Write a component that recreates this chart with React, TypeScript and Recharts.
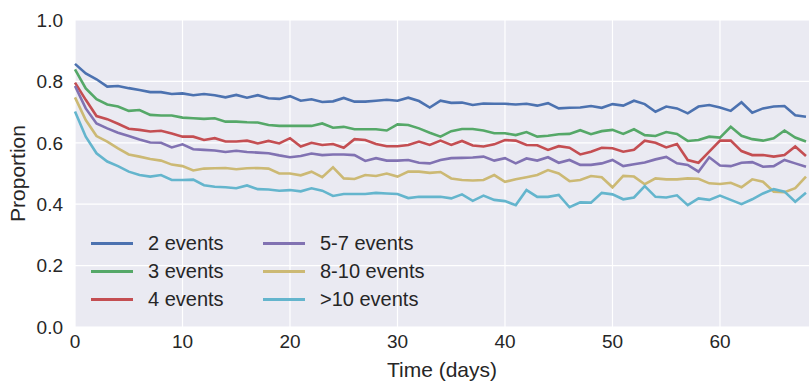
import React from 'react'
import { LineChart, Line, XAxis, YAxis, CartesianGrid } from 'recharts'

// days 0..68
const days = Array.from({ length: 69 }, (_, i) => i)

const twoEvents = [
  0.857, 0.826, 0.807, 0.783, 0.785, 0.778, 0.772, 0.765, 0.765, 0.759, 0.761, 0.755,
  0.759, 0.755, 0.748, 0.756, 0.747, 0.755, 0.745, 0.743, 0.752, 0.737, 0.742, 0.733,
  0.735, 0.746, 0.734, 0.734, 0.737, 0.74, 0.737, 0.747, 0.736, 0.715, 0.737, 0.73,
  0.731, 0.723, 0.728, 0.727, 0.727, 0.725, 0.727, 0.721, 0.729, 0.712, 0.714, 0.715,
  0.72, 0.714, 0.726, 0.721, 0.737, 0.726, 0.701, 0.718, 0.712, 0.696, 0.718, 0.723,
  0.715, 0.704, 0.732, 0.698, 0.712, 0.718, 0.72, 0.69, 0.685,
]
const threeEvents = [
  0.839, 0.777, 0.742, 0.725, 0.718, 0.704, 0.707, 0.691, 0.689, 0.689, 0.682, 0.68,
  0.678, 0.68, 0.669, 0.669, 0.667, 0.666, 0.658, 0.655, 0.655, 0.655, 0.655, 0.663,
  0.649, 0.652, 0.644, 0.644, 0.644, 0.64, 0.66, 0.658, 0.647, 0.633, 0.62, 0.638,
  0.645, 0.645, 0.64, 0.631, 0.631, 0.625, 0.635, 0.62, 0.623, 0.628, 0.629, 0.641,
  0.628, 0.638, 0.642, 0.629, 0.644, 0.625, 0.622, 0.635, 0.629, 0.606, 0.609, 0.62,
  0.617, 0.652, 0.623, 0.612, 0.607, 0.615, 0.64, 0.617, 0.604,
]
const fourEvents = [
  0.796, 0.74, 0.687, 0.677, 0.662, 0.646, 0.642, 0.637, 0.639, 0.63, 0.62, 0.62,
  0.609, 0.615, 0.604, 0.604, 0.607, 0.598, 0.606, 0.598, 0.615, 0.588, 0.6, 0.593,
  0.596, 0.584, 0.612, 0.609, 0.596, 0.589, 0.589, 0.593, 0.604, 0.593, 0.607, 0.593,
  0.606, 0.591, 0.588, 0.595, 0.609, 0.607, 0.593, 0.592, 0.577, 0.589, 0.584, 0.562,
  0.571, 0.584, 0.582, 0.571, 0.577, 0.607, 0.6, 0.585, 0.596, 0.544, 0.535, 0.571,
  0.607, 0.607, 0.573, 0.56, 0.56, 0.555, 0.56, 0.588, 0.557,
]
const fiveToSeven = [
  0.785, 0.712, 0.663, 0.647, 0.633, 0.622, 0.611, 0.601, 0.6, 0.585, 0.595, 0.579,
  0.577, 0.575, 0.57, 0.574, 0.57, 0.568, 0.566, 0.559, 0.553, 0.557, 0.565, 0.56,
  0.562, 0.562, 0.56, 0.541, 0.55, 0.542, 0.542, 0.544, 0.535, 0.533, 0.544, 0.55,
  0.551, 0.552, 0.555, 0.542, 0.55, 0.533, 0.549, 0.542, 0.553, 0.535, 0.544, 0.528,
  0.528, 0.533, 0.544, 0.524, 0.53, 0.536, 0.546, 0.554, 0.533, 0.528, 0.506, 0.553,
  0.526, 0.524, 0.535, 0.537, 0.522, 0.524, 0.544, 0.533, 0.522,
]
const eightToTen = [
  0.748, 0.674, 0.622, 0.604, 0.582, 0.562, 0.555, 0.547, 0.542, 0.529, 0.524, 0.51,
  0.516, 0.517, 0.518, 0.514, 0.517, 0.518, 0.516, 0.5, 0.5, 0.494, 0.506, 0.488,
  0.52, 0.484, 0.482, 0.495, 0.492, 0.5, 0.49, 0.506, 0.506, 0.502, 0.505, 0.484,
  0.479, 0.477, 0.479, 0.495, 0.473, 0.481, 0.488, 0.495, 0.511, 0.5, 0.475, 0.479,
  0.492, 0.488, 0.455, 0.492, 0.49, 0.465, 0.484, 0.481, 0.481, 0.484, 0.483, 0.468,
  0.466, 0.47, 0.455, 0.481, 0.473, 0.441, 0.439, 0.452, 0.49,
]
const overTen = [
  0.702, 0.62, 0.566, 0.539, 0.524, 0.506, 0.495, 0.49, 0.495, 0.479, 0.479, 0.48,
  0.462, 0.457, 0.455, 0.452, 0.461, 0.449, 0.448, 0.444, 0.446, 0.442, 0.452, 0.444,
  0.427, 0.433, 0.433, 0.433, 0.437, 0.435, 0.433, 0.42, 0.424, 0.424, 0.424, 0.419,
  0.432, 0.411, 0.428, 0.414, 0.41, 0.397, 0.446, 0.424, 0.424, 0.43, 0.39, 0.406,
  0.405, 0.437, 0.432, 0.416, 0.422, 0.459, 0.424, 0.422, 0.429, 0.397, 0.419, 0.414,
  0.428, 0.414, 0.4, 0.416, 0.435, 0.449, 0.441, 0.408, 0.437,
]

const seriesNames = ['2 events', '3 events', '4 events', '5-7 events', '8-10 events', '>10 events']
const seriesValues = [twoEvents, threeEvents, fourEvents, fiveToSeven, eightToTen, overTen]
const colors = ['#4C72B0', '#55A868', '#C44E52', '#8172B2', '#CCB974', '#64B5CD']

const xTicks = [0, 10, 20, 30, 40, 50, 60]
const yTicks = [0, 0.2, 0.4, 0.6, 0.8, 1.0]

const data = days.map((d, i) => {
  const row: Record<string, number> = { day: d }
  seriesNames.forEach((name, s) => {
    row[name] = seriesValues[s][i]
  })
  return row
})

const FONT = '"Liberation Sans", Arial, sans-serif'
const TEXT = '#262626'

// legend: two columns of three, no frame, laid over the plot
const LegendBox = () => (
  <div
    style={{
      position: 'absolute',
      left: 91,
      top: 229,
      display: 'grid',
      gridTemplateColumns: '172px 220px',
      gridAutoFlow: 'column',
      gridTemplateRows: 'repeat(3, 28px)',
      fontFamily: FONT,
      fontSize: 20,
      color: TEXT,
      pointerEvents: 'none',
    }}
  >
    {seriesNames.map((name, i) => (
      <div key={name} style={{ display: 'flex', alignItems: 'center', height: 28 }}>
        <span style={{ display: 'inline-block', width: 42, height: 3, background: colors[i], marginRight: 15 }} />
        <span>{name}</span>
      </div>
    ))}
  </div>
)

export default function App() {
  return (
    <div style={{ position: 'absolute', left: 0, top: 0, width: 809, height: 381, background: '#fff' }}>
      <LineChart width={809} height={381} data={data} margin={{ top: 20, right: 0, bottom: 0, left: 15 }}>
        <CartesianGrid fill="#EAEAF2" stroke="#ffffff" strokeWidth={1.2} horizontalValues={yTicks} verticalValues={xTicks} />
        <XAxis
          dataKey="day"
          type="number"
          domain={[0, 68.28]}
          ticks={xTicks}
          tickLine={false}
          axisLine={false}
          height={54}
          tickMargin={2}
          tick={{ fill: TEXT, fontSize: 19, fontFamily: FONT }}
          label={{ value: 'Time (days)', position: 'insideBottom', offset: 4, fill: TEXT, fontSize: 21, fontFamily: FONT }}
        />
        <YAxis
          type="number"
          domain={[0, 1]}
          ticks={yTicks}
          tickFormatter={(v: number) => v.toFixed(1)}
          tickLine={false}
          axisLine={false}
          width={60}
          tickMargin={6}
          tick={{ fill: TEXT, fontSize: 19, fontFamily: FONT }}
          label={{ value: 'Proportion', angle: -90, position: 'insideLeft', offset: 3, fill: TEXT, fontSize: 21, fontFamily: FONT, style: { textAnchor: 'middle' } }}
        />
        {seriesNames.map((name, i) => (
          <Line
            key={name}
            type="linear"
            dataKey={name}
            stroke={colors[i]}
            strokeWidth={2.6}
            dot={false}
            isAnimationActive={false}
          />
        ))}
      </LineChart>
      <LegendBox />
    </div>
  )
}
